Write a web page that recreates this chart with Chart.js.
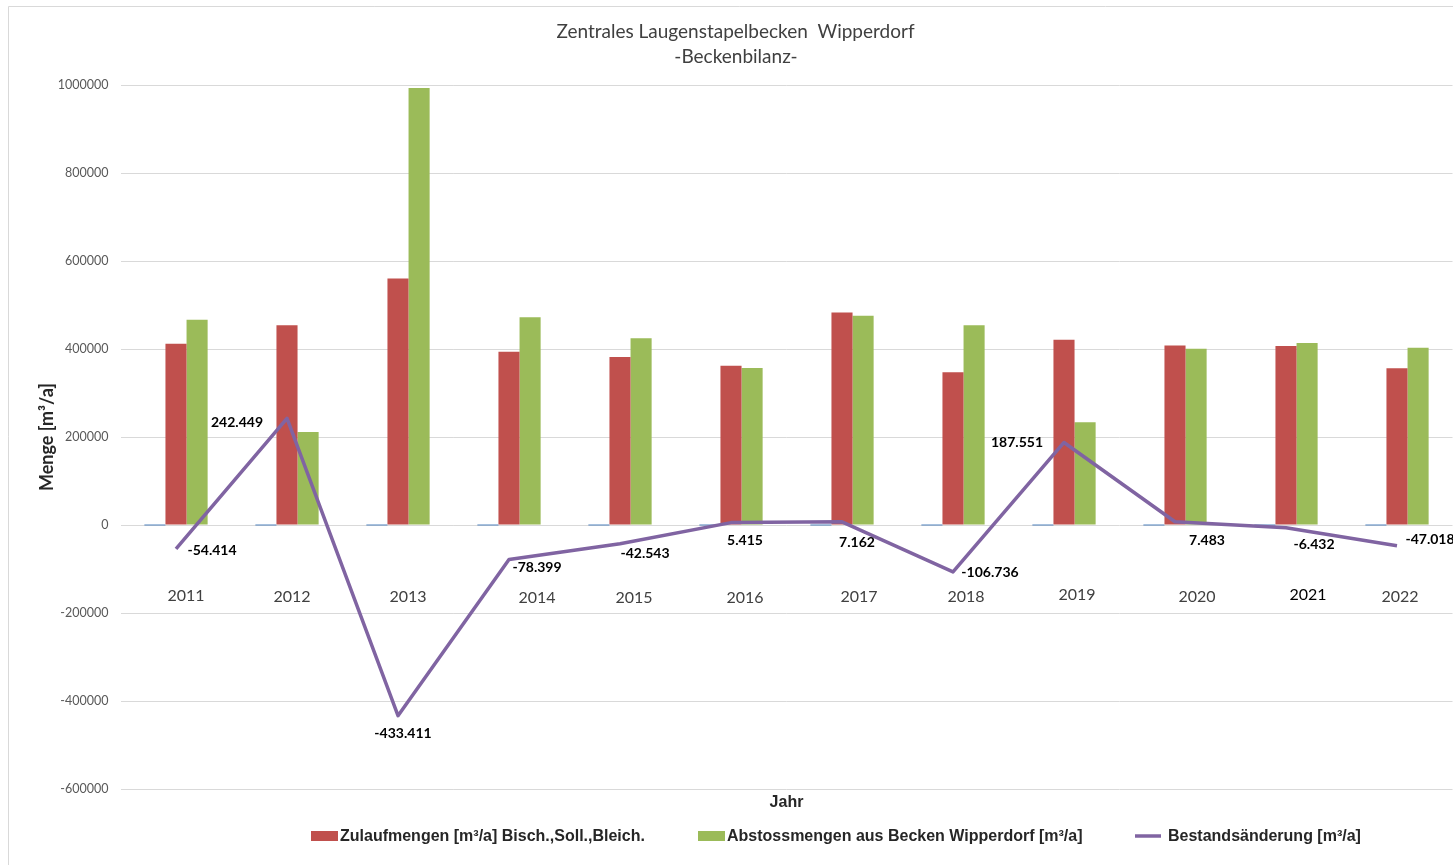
<!DOCTYPE html>
<html>
<head>
<meta charset="utf-8">
<script src="https://cdn.jsdelivr.net/npm/chart.js@4.4.1/dist/chart.umd.min.js"></script>
<style>
  html, body { margin: 0; padding: 0; background: #ffffff; overflow: hidden; }
  #wrap { position: absolute; left: 0; top: 0; width: 1470px; height: 865px; }
</style>
</head>
<body>
<div id="wrap"><canvas id="c" width="1470" height="865"></canvas></div>
<script>
// ---- data ----
const years = ['2011','2012','2013','2014','2015','2016','2017','2018','2019','2020','2021','2022'];
const zulauf = [412000, 454000, 560000, 394000, 382000, 362000, 483000, 347000, 421000, 408000, 407000, 356000];
const abstoss = [466414, 211551, 993411, 472399, 424543, 356585, 475838, 453736, 233449, 400517, 413432, 403018];
const bestand = [-54414, 242449, -433411, -78399, -42543, 5415, 7162, -106736, 187551, 7483, -6432, -47018];
const leer = [0, 0, 0, 0, 0, 0, 0, 0, 0, 0, 0, 0];
const yTicks = [-600000, -400000, -200000, 0, 200000, 400000, 600000, 800000, 1000000];

const titleLines = ['Zentrales Laugenstapelbecken  Wipperdorf', '-Beckenbilanz-'];
const seriesNames = ['Zulaufmengen [m\u00B3/a] Bisch.,Soll.,Bleich.', 'Abstossmengen aus Becken Wipperdorf [m\u00B3/a]', 'Bestandsänderung [m\u00B3/a]'];

// ---- layout helpers (placement only) ----
const labelOffsets = [[36,2],[-50,4],[5,18],[28,8],[25,10],[14,18],[15,21],[37,1],[-47,0],[32,19],[28,17],[33,-6]];
const catOffsets = [[10,71],[5,72],[10,72],[28,73],[14,73],[14,73],[17,72],[13,72],[13,70],[22,72],[22,70],[3,72]];
const legendX = [311, 698, 1135];

function fmtDE(v) {
  const s = Math.abs(v).toString().replace(/\B(?=(\d{3})+(?!\d))/g, '.');
  return (v < 0 ? '-' : '') + s;
}

const deco = {
  id: 'deco',
  beforeDraw(chart) {
    const ctx = chart.ctx;
    ctx.save();
    ctx.fillStyle = '#ffffff';
    ctx.fillRect(0, 0, chart.width, chart.height);
    ctx.strokeStyle = '#D9D9D9';
    ctx.lineWidth = 1;
    ctx.beginPath();
    ctx.moveTo(8.5, chart.height + 2);
    ctx.lineTo(8.5, 6.5);
    ctx.lineTo(chart.width + 2, 6.5);
    ctx.stroke();
    ctx.restore();
  },
  afterDatasetsDraw(chart) {
    const ctx = chart.ctx;
    const xs = chart.scales.x, ys = chart.scales.y;
    const y0 = ys.getPixelForValue(0);
    ctx.save();
    // category labels near zero line
    ctx.textAlign = 'center';
    ctx.textBaseline = 'middle';
    ctx.font = '16px Lato, "Liberation Sans", sans-serif';
    years.forEach((yr, i) => {
      ctx.fillStyle = yr === '2021' ? '#000000' : '#404040';
      const x = xs.getPixelForValue(i) + catOffsets[i][0];
      ctx.fillText(yr, x, y0 + catOffsets[i][1]);
    });
    // data labels of line
    const meta = chart.getDatasetMeta(0);
    ctx.font = 'bold 14px Lato, "Liberation Sans", sans-serif';
    ctx.fillStyle = '#000000';
    meta.data.forEach((pt, i) => {
      ctx.fillText(fmtDE(bestand[i]), pt.x + labelOffsets[i][0], pt.y + labelOffsets[i][1]);
    });
    ctx.restore();
  },
  afterDraw(chart) {
    const ctx = chart.ctx;
    ctx.save();
    // title
    ctx.textAlign = 'center';
    ctx.textBaseline = 'middle';
    ctx.fillStyle = '#404040';
    ctx.font = '19px Lato, "Liberation Sans", sans-serif';
    ctx.fillText(titleLines[0], 735.5, 32);
    ctx.fillText(titleLines[1], 736, 57);
    // legend
    const ly = 836;
    ctx.textAlign = 'left';
    ctx.font = 'bold 16px "Liberation Sans Narrow", "Liberation Sans", sans-serif';
    const dsIdx = [2, 3, 0];
    dsIdx.forEach((d, k) => {
      const ds = chart.data.datasets[d];
      const x = legendX[k];
      if (ds.type === 'line') {
        ctx.strokeStyle = ds.borderColor;
        ctx.lineWidth = 3.5;
        ctx.beginPath();
        ctx.moveTo(x, ly);
        ctx.lineTo(x + 26, ly);
        ctx.stroke();
        ctx.fillStyle = '#262626';
        ctx.fillText(ds.label, x + 33, ly + 1);
      } else {
        ctx.fillStyle = ds.backgroundColor;
        ctx.fillRect(x, ly - 5, 27, 10);
        ctx.fillStyle = '#262626';
        ctx.fillText(ds.label, x + 29, ly + 1);
      }
    });
    ctx.restore();
  }
};

new Chart(document.getElementById('c'), {
  type: 'bar',
  data: {
    labels: years,
    datasets: [
      { type: 'line', label: seriesNames[2], data: bestand, borderColor: '#8064A2', backgroundColor: '#8064A2',
        borderWidth: 3.5, pointRadius: 0, tension: 0, borderJoinStyle: 'round', order: 0 },
      { type: 'bar', label: 'Reihe', data: leer, backgroundColor: '#4F81BD', minBarLength: 1, order: 1 },
      { type: 'bar', label: seriesNames[0], data: zulauf, backgroundColor: '#C0504D', order: 1 },
      { type: 'bar', label: seriesNames[1], data: abstoss, backgroundColor: '#9BBB59', order: 1 }
    ]
  },
  options: {
    responsive: false,
    animation: false,
    devicePixelRatio: 1,
    datasets: { bar: { categoryPercentage: 0.57, barPercentage: 1.0 } },
    layout: { padding: { top: 85, left: 0, right: 17.5, bottom: 0 } },
    plugins: { legend: { display: false }, title: { display: false }, tooltip: { enabled: false } },
    scales: {
      x: {
        grid: { display: false, drawTicks: false },
        border: { display: false },
        ticks: { display: false },
        title: { display: true, text: 'Jahr', color: '#262626',
          font: { family: '"Liberation Sans Narrow", "Liberation Sans", sans-serif', size: 16, weight: 'bold' },
          padding: { top: 0, bottom: 53 } },
        afterFit(s) { s.height = 76; }
      },
      y: {
        min: yTicks[0], max: yTicks[yTicks.length - 1],
        afterBuildTicks(s) { s.ticks = yTicks.map(v => ({ value: v })); },
        ticks: { padding: 12, color: '#595959', font: { family: 'Lato, "Liberation Sans", sans-serif', size: 12.5 },
          callback: v => String(v) },
        grid: { color: '#D9D9D9', lineWidth: 1, drawTicks: false },
        border: { display: false },
        title: { display: true, text: 'Menge [m\u00B3/a]', color: '#262626',
          font: { family: 'Lato, "Liberation Sans", sans-serif', size: 18, weight: 'bold' },
          padding: { top: 36, bottom: 0 } },
        afterFit(s) { s.width = 120.5; }
      }
    }
  },
  plugins: [deco]
});
</script>
</body>
</html>
